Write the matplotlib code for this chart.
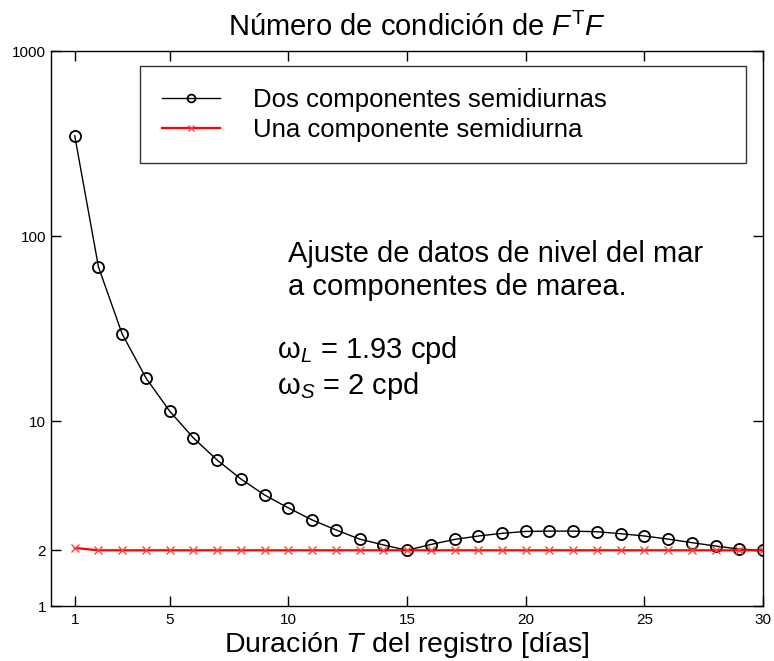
import numpy as np
import matplotlib
matplotlib.use("Agg")
import matplotlib.pyplot as plt
from matplotlib.ticker import FixedLocator, FixedFormatter, NullLocator

plt.rcParams['font.family'] = ['Liberation Sans', 'DejaVu Sans']
plt.rcParams['mathtext.fontset'] = 'custom'
plt.rcParams['mathtext.rm'] = 'Liberation Sans'
plt.rcParams['mathtext.it'] = 'Liberation Sans:italic'

# Duracion del registro (dias)
dias = list(range(1, 31))

# Numero de condicion, dos componentes semidiurnas
cond_dos = [348, 68, 29.5, 17.1, 11.3, 8.1, 6.15, 4.86, 3.98, 3.39,
            2.92, 2.58, 2.30, 2.14, 2.00, 2.15, 2.29, 2.39, 2.47, 2.53,
            2.54, 2.54, 2.52, 2.46, 2.39, 2.30, 2.20, 2.11, 2.03, 2.00]

# Numero de condicion, una componente semidiurna
cond_una = [2.06] + [2.0] * 29

xticks = [1, 5, 10, 15, 20, 25, 30]
yticks = [1, 2, 10, 100, 1000]
ytick_labels = ['1', '2', '10', '100', '1000']

fig = plt.figure(figsize=(7.74, 6.61), dpi=100)
ax = fig.add_axes([0.0659, 0.0832, 0.920, 0.8396])

ax.plot(dias, cond_dos, color='black', lw=1.0, marker='o', ms=8,
        mfc='none', mec='black', mew=1.3, label='Dos componentes semidiurnas')
ax.plot(dias, cond_una, color='red', lw=1.6, marker='x', ms=6,
        mec='#ff4040', mew=1.0, label='Una componente semidiurna')

ax.set_yscale('log')
ax.set_xlim(0, 30)
ax.set_ylim(1, 1000)
ax.xaxis.set_major_locator(FixedLocator(xticks))
ax.yaxis.set_major_locator(FixedLocator(yticks))
ax.yaxis.set_major_formatter(FixedFormatter(ytick_labels))
ax.yaxis.set_minor_locator(NullLocator())
ax.tick_params(direction='in', length=7, width=1, top=True, right=True,
               labelsize=11)
ax.tick_params(axis='x', pad=5)
for s in ax.spines.values():
    s.set_linewidth(1.0)

ax.set_title('Número de condición de $F^{\\mathrm{T}}F$', fontsize=21, pad=11,
             x=0.514)
ax.set_xlabel('Duración $T$ del registro [días]', fontsize=20.5, labelpad=2)

leg = ax.legend(loc='upper left', bbox_to_anchor=(0.125, 0.973, 0.851, 0.0),
                mode='expand', fancybox=False, edgecolor='black',
                fontsize=18.5, handlelength=2.26, handletextpad=1.3,
                borderpad=0.85, borderaxespad=0, labelspacing=0.22,
                markerscale=0.7)
leg.get_frame().set_linewidth(1.0)

ax.text(0.333, 0.620, 'Ajuste de datos de nivel del mar',
        transform=ax.transAxes, fontsize=21, va='baseline')
ax.text(0.333, 0.560, 'a componentes de marea.',
        transform=ax.transAxes, fontsize=21, va='baseline')
ax.text(0.318, 0.447, 'ω$_L$ = 1.93 cpd', transform=ax.transAxes,
        fontsize=21, va='baseline')
ax.text(0.318, 0.382, 'ω$_S$ = 2 cpd', transform=ax.transAxes,
        fontsize=21, va='baseline')

fig.savefig('out.png', dpi=100)
